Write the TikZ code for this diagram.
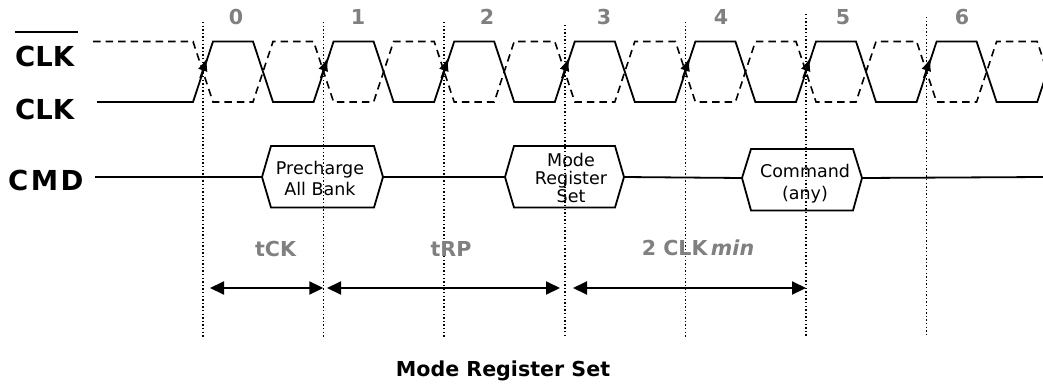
\documentclass[tikz,border=0pt]{standalone}
\usepackage{fontspec}
\setmainfont{DejaVu Sans}
\usetikzlibrary{arrows.meta}
\definecolor{labelgray}{RGB}{128,128,128}
\begin{document}
\begin{tikzpicture}[x=1pt,y=-1pt,
  wave/.style={line width=1.8pt, line join=miter},
  dwave/.style={wave, line width=1.6pt, dash pattern=on 7.5pt off 5pt},
  dotline/.style={line width=1.6pt, dash pattern=on 1.4pt off 2.2pt},
  sig/.style={line width=1.8pt},
  boxtxt/.style={font=\fontsize{17.5}{21}\selectfont, anchor=base, inner sep=0pt},
  siglabel/.style={font=\bfseries\fontsize{27.5}{32}\selectfont, anchor=base west, inner sep=0pt},
  glabel/.style={font=\bfseries\fontsize{20.6}{24}\selectfont, text=labelgray, anchor=base, inner sep=0pt},
  spanarrow/.style={line width=2pt, {Triangle[length=14pt,width=13pt]}-{Triangle[length=14pt,width=13pt]}},
  edgearrow/.style={line width=1.4pt, -{Latex[length=13pt,width=10pt]}},
]
\useasboundingbox (0,0) rectangle (1043,383);

% signal labels
\node[siglabel] (clkn) at (15,66.7) {CLK};
\coordinate (olA) at (15,31.7);
\coordinate (olB) at (78,31.7);
\draw[line width=2.2pt] (olA) -- (olB);
\node[siglabel] (clk) at (15,119.3) {CLK};
\node[siglabel] (cmd) at (8,190) {C\kern2.5pt M\kern2.5pt D};

% clock numbers
\foreach \x/\n in {236/0,358/1,487/2,604/3,721/4,843/5,962/6}
  \node[glabel] (num\n) at (\x,24.7) {\n};

% dotted vertical lines
\foreach \k/\top in {0/22,1/22,2/22,3/25,4/22,5/14,6/17} {
  \coordinate (dt\k) at ({203+120.6*\k},\top);
  \coordinate (db\k) at ({203+120.6*\k},337);
  \draw[dotline] (dt\k) -- (db\k);
}

% waveforms
\begin{scope}
\clip (0,0) rectangle (1043,383);
\draw[wave] (97,102) foreach \k in {0,...,7} { -- ({193+120.6*\k},102) -- ({213+120.6*\k},41.5) -- ({253+120.6*\k},41.5) -- ({273+120.6*\k},102) };
\draw[dwave] (93,41.5) foreach \k in {0,...,7} { -- ({193+120.6*\k},41.5) -- ({213+120.6*\k},102) -- ({253+120.6*\k},102) -- ({273+120.6*\k},41.5) };
\end{scope}

% rising edge arrows
\foreach \k in {0,...,6}
  \draw[edgearrow] ({200+120.6*\k},78) -- ({207+120.6*\k},58);

% command boxes
\coordinate (b1L) at (262,177);   \coordinate (b1TL) at (271,146);
\coordinate (b1TR) at (374,146);  \coordinate (b1R) at (383,177);
\coordinate (b1BR) at (374,207.5);\coordinate (b1BL) at (271,207.5);
\coordinate (b2L) at (505,177);   \coordinate (b2TL) at (514,146);
\coordinate (b2TR) at (615,146);  \coordinate (b2R) at (624,177);
\coordinate (b2BR) at (615,207.5);\coordinate (b2BL) at (514,207.5);
\coordinate (b3L) at (742,178);   \coordinate (b3TL) at (751,149);
\coordinate (b3TR) at (853,149);  \coordinate (b3R) at (862,178);
\coordinate (b3BR) at (853,210.5);\coordinate (b3BL) at (751,210.5);
\foreach \b in {1,2,3}
  \draw[sig, line join=miter] (b\b L) -- (b\b TL) -- (b\b TR) -- (b\b R) -- (b\b BR) -- (b\b BL) -- cycle;

\coordinate (cmdS) at (95,177);
\coordinate (cmdE) at (1043,177);
\draw[sig] (cmdS) -- (b1L);
\draw[sig] (b1R) -- (b2L);
\draw[sig] (b2R) -- (b3L);
\draw[sig] (b3R) -- (cmdE);

\node[boxtxt] (t1a) at (320,174) {Precharge};
\node[boxtxt] (t1b) at (320,195) {All Bank};
\node[boxtxt] (t2a) at (571,166) {Mode};
\node[boxtxt] (t2b) at (571,184.3) {Register};
\node[boxtxt] (t2c) at (571,202.7) {Set};
\node[boxtxt] (t3a) at (805,177.3) {Command};
\node[boxtxt] (t3b) at (805,199) {(any)};

% timing labels
\node[glabel] (tck) at (275.5,256) {tCK};
\node[glabel] (trp) at (451,256) {tRP};
\node[glabel] (tclk) at (698,255) {2 CLK\,\itshape min};

% timing arrows
\coordinate (a1L) at (210,288);   \coordinate (a1R) at (323.3,288);
\coordinate (a2L) at (327,288);   \coordinate (a2R) at (560,288);
\coordinate (a3L) at (573,288);   \coordinate (a3R) at (806,288);
\draw[spanarrow] (a1L) -- (a1R);
\draw[spanarrow] (a2L) -- (a2R);
\draw[spanarrow] (a3L) -- (a3R);

% title
\node[font=\bfseries\fontsize{20.6}{24}\selectfont, anchor=base, inner sep=0pt] (title) at (503,376.7) {Mode Register Set};
\end{tikzpicture}
\end{document}
